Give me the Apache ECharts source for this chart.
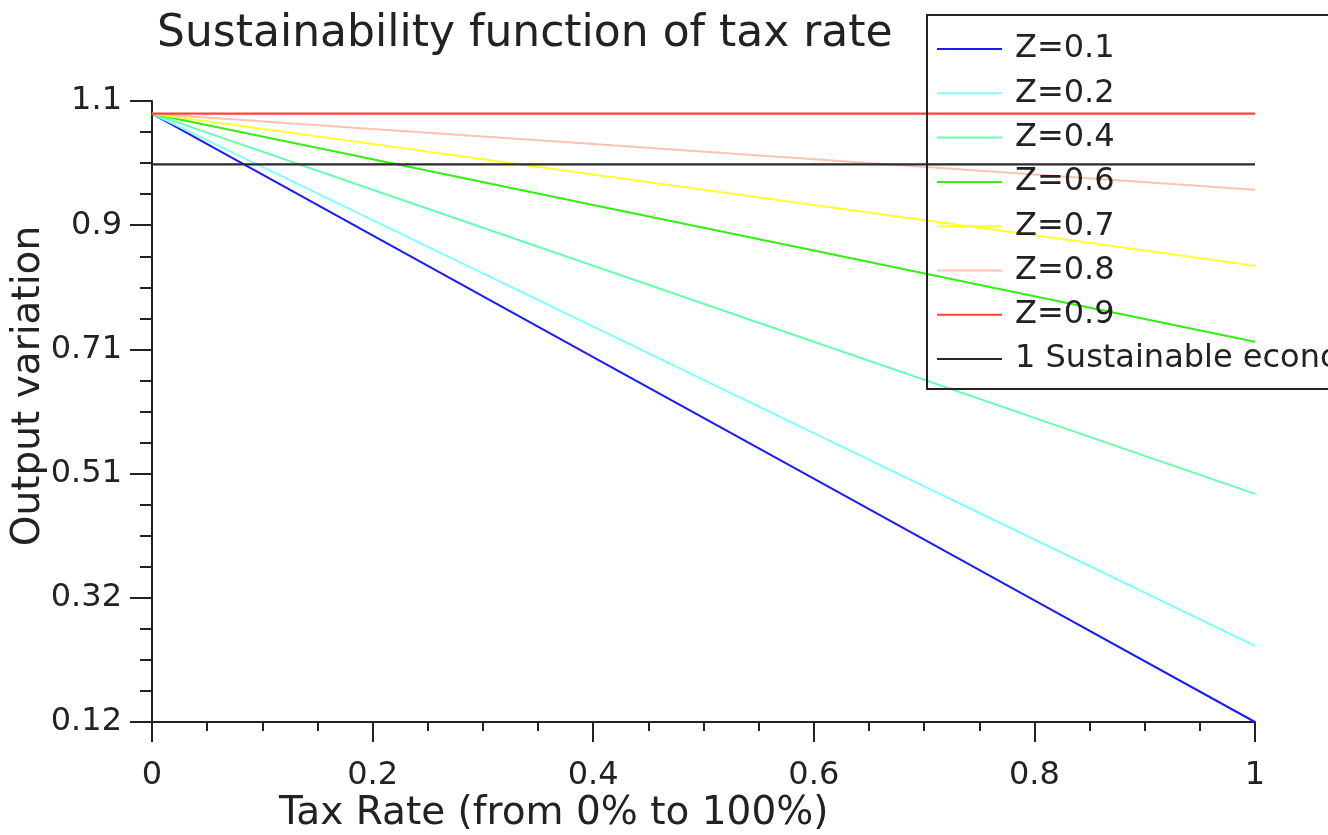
<!DOCTYPE html>
<html>
<head>
<meta charset="utf-8">
<script src="https://cdn.jsdelivr.net/npm/echarts@6/dist/echarts.min.js"></script>
<style>
html,body{margin:0;padding:0;background:#fff;}
#chart{width:1328px;height:835px;}
</style>
</head>
<body>
<div id="chart"></div>
<script>
// Tax rate values (x)
const taxRate = [0, 0.2, 0.4, 0.6, 0.8, 1];
// Output variation, one array per Z
const z01 = [1.08, 0.888, 0.696, 0.504, 0.312, 0.12];
const z02 = [1.08, 0.912, 0.744, 0.576, 0.408, 0.24];
const z04 = [1.08, 0.96, 0.84, 0.72, 0.60, 0.48];
const z06 = [1.08, 1.008, 0.936, 0.864, 0.792, 0.72];
const z07 = [1.08, 1.032, 0.984, 0.936, 0.888, 0.84];
const z08 = [1.08, 1.056, 1.032, 1.008, 0.984, 0.96];
const z09 = [1.08, 1.08, 1.08, 1.08, 1.08, 1.08];
const sustainable = [1, 1, 1, 1, 1, 1];
const seriesNames = ['Z=0.1','Z=0.2','Z=0.4','Z=0.6','Z=0.7','Z=0.8','Z=0.9','1 Sustainable economy'];
const seriesValues = [z01, z02, z04, z06, z07, z08, z09, sustainable];
const colors = ['#1a1aff','#80ffff','#66ffb0','#33ee11','#ffff33','#ffc2b2','#ff4433','#2a2a2a'];
const yMin = 0.12, yMax = 1.1, yStep = 0.196;

const FONT = 'DejaVu Sans';
const chart = echarts.init(document.getElementById('chart'), null, {renderer:'canvas'});

const series = seriesNames.map((n, i) => ({
  name: n,
  type: 'line',
  symbol: 'none',
  animation: false,
  lineStyle: {color: colors[i], width: (i === 6 || i === 7) ? 2.2 : 2},
  itemStyle: {color: colors[i]},
  data: taxRate.map((t, k) => [t, seriesValues[i][k]])
}));

chart.setOption({
  backgroundColor: '#fff',
  animation: false,
  grid: {left: 152, right: 73, top: 101, bottom: 113, containLabel: false},
  xAxis: {
    type: 'value', min: 0, max: 1, interval: 0.2,
    axisLine: {lineStyle: {color: '#222', width: 2}},
    axisTick: {show: true, inside: false, length: 20, lineStyle: {color: '#222', width: 2}},
    minorTick: {show: true, splitNumber: 4, length: 9, lineStyle: {color: '#222', width: 2}},
    splitLine: {show: false},
    axisLabel: {margin: 38, fontFamily: FONT, fontSize: 32, color: '#222',
      formatter: v => String(parseFloat(v.toFixed(2)))}
  },
  yAxis: {
    type: 'value', min: yMin, max: yMax, interval: yStep,
    axisLine: {show: true, lineStyle: {color: '#222', width: 2}},
    axisTick: {show: true, inside: false, length: 22, lineStyle: {color: '#222', width: 2}},
    minorTick: {show: true, splitNumber: 4, length: 12, lineStyle: {color: '#222', width: 2}},
    splitLine: {show: false},
    axisLabel: {margin: 30, fontFamily: FONT, fontSize: 32, color: '#222',
      formatter: v => String(parseFloat(v.toFixed(2)))}
  },
  legend: {
    orient: 'vertical', left: 927, top: 15,
    padding: [17, 400, 13, 10],
    borderColor: '#222', borderWidth: 2,
    itemWidth: 65, itemHeight: 2, itemGap: 10.3,
    icon: 'rect',
    data: seriesNames,
    textStyle: {fontFamily: FONT, fontSize: 32, lineHeight: 34, color: '#222', padding: [0, 0, 0, 8]}
  },
  graphic: [
    {type: 'text', left: 157, top: 13, style: {text: 'Sustainability function of tax rate', font: '44px "DejaVu Sans"', fill: '#222'}},
    {type: 'text', left: 279, top: 794, style: {text: 'Tax Rate (from 0% to 100%)', font: '39px "DejaVu Sans"', fill: '#222'}},
    {type: 'text', x: 29, y: 386, rotation: Math.PI / 2, style: {text: 'Output variation', font: '39px "DejaVu Sans"', fill: '#222', align: 'center', verticalAlign: 'middle'}}
  ],
  series: series
});
</script>
</body>
</html>
